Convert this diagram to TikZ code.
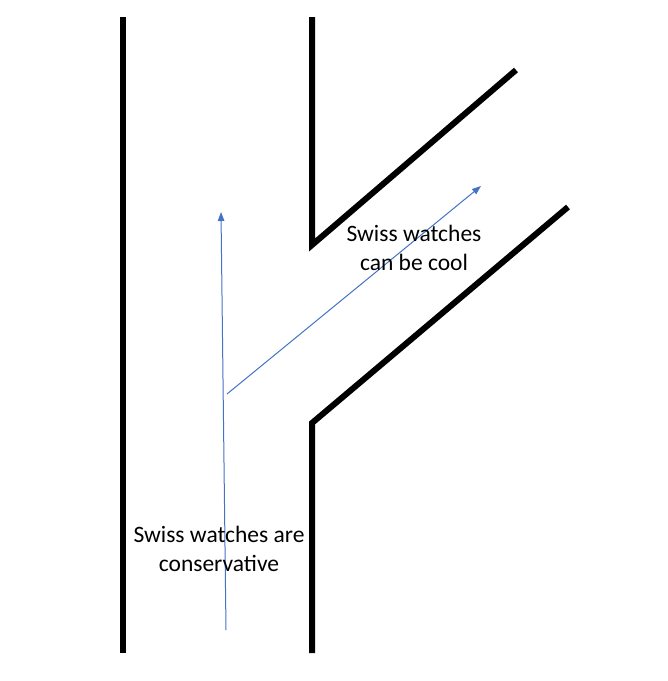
\documentclass[tikz,border=0pt]{standalone}
\usepackage{fontspec}
\setmainfont{Carlito}
\usetikzlibrary{arrows.meta}
\definecolor{officeblue}{HTML}{4472C4}
\tikzset{
  wall/.style={line width=6pt, black, line join=miter},
  flow/.style={officeblue, line width=1pt, -{Triangle[length=9pt,width=6.5pt]}},
  label/.style={align=center, font=\fontsize{23.5}{29}\selectfont, inner sep=0pt}
}
\begin{document}
\begin{tikzpicture}[x=1pt,y=-1pt]
\useasboundingbox (0,0) rectangle (668,681);
% walls
\coordinate (lt) at (123,17);
\coordinate (lb) at (123,653);
\coordinate (ut) at (312,17);
\coordinate (uc) at (312,245);
\coordinate (ue) at (516,70);
\coordinate (bb) at (312,653);
\coordinate (bc) at (312,423);
\coordinate (be) at (568,207);
\draw[wall] (lt) -- (lb);
\draw[wall] (ut) -- (uc) -- (ue);
\draw[wall] (bb) -- (bc) -- (be);
% flows
\coordinate (s1) at (226,630);
\coordinate (e1) at (221,212);
\coordinate (s2) at (227,394);
\coordinate (e2) at (481,186);
\draw[flow] (s1) -- (e1);
\draw[flow] (s2) -- (e2);
% labels
\node[label] (cool) at (414,248) {Swiss watches\\can be cool};
\node[label] (cons) at (219,549) {Swiss watches are\\conservative};
\end{tikzpicture}
\end{document}
